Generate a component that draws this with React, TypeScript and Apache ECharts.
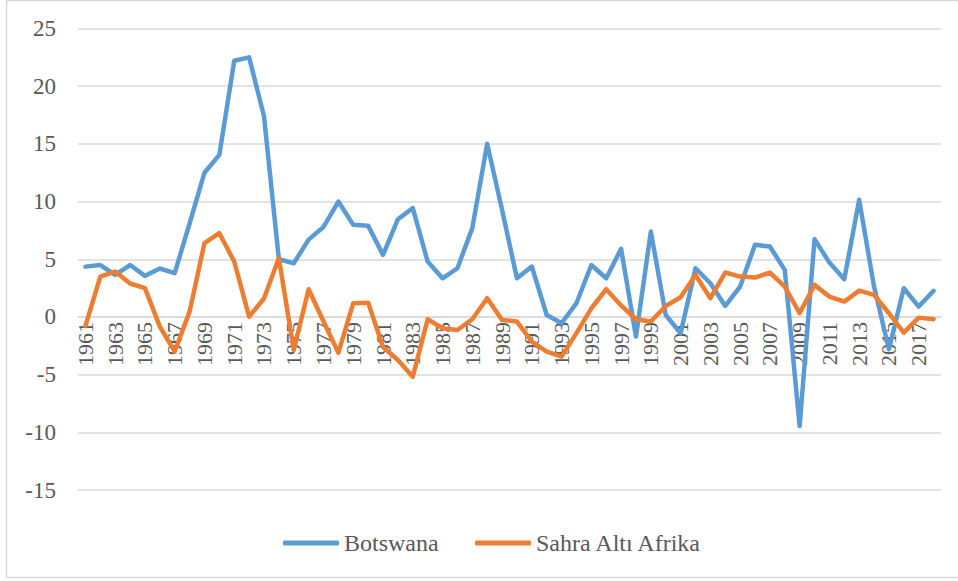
import React, { useEffect, useRef } from "react";
import * as echarts from "echarts";

const years: string[] = [];
for (let y = 1961; y <= 2018; y++) years.push(String(y));

const yTicks = [-15, -10, -5, 0, 5, 10, 15, 20, 25];

const botswana = [
  4.36, 4.5, 3.64, 4.5, 3.56, 4.2, 3.8, 8.1, 12.5, 14.05,
  22.2, 22.5, 17.4, 5.0, 4.65, 6.7, 7.8, 10.0, 7.98, 7.9,
  5.38, 8.47, 9.43, 4.8, 3.35, 4.22, 7.7, 15.0, 9.28, 3.35,
  4.37, 0.17, -0.55, 1.19, 4.5, 3.35, 5.9, -1.7, 7.4, 0.17,
  -1.41, 4.22, 2.92, 0.95, 2.63, 6.25, 6.1, 4.08, -9.46, 6.74,
  4.71, 3.27, 10.15, 2.63, -2.8, 2.49, 0.9, 2.26,
];

const ssa = [
  -0.78, 3.5, 3.93, 2.9, 2.5, -0.84, -3.0, 0.46, 6.4, 7.26,
  4.8, 0.03, 1.6, 5.1, -2.86, 2.4, -0.4, -3.1, 1.19, 1.24,
  -2.6, -3.73, -5.18, -0.2, -0.98, -1.13, -0.2, 1.62, -0.26, -0.4,
  -2.14, -3.0, -3.44, -1.4, 0.75, 2.4, 1.0, -0.2, -0.4, 0.95,
  1.71, 3.64, 1.62, 3.85, 3.5, 3.41, 3.85, 2.63, 0.32, 2.78,
  1.76, 1.33, 2.28, 1.91, 0.32, -1.36, -0.06, -0.2,
];

const seriesNames = ["Botswana", "Sahra Altı Afrika"];
const colors = ["#5B9BD5", "#ED7D31"];

export default function App() {
  const ref = useRef<HTMLDivElement>(null);
  useEffect(() => {
    document.body.style.margin = "0";
    const chart = echarts.init(ref.current!, null, { renderer: "svg" });
    const font = "Liberation Serif";
    const textColor = "#595959";
    const legendBase = {
      bottom: 26,
      padding: 0,
      icon: "roundRect",
      itemWidth: 56,
      itemHeight: 5,
      textStyle: { fontFamily: font, fontSize: 24, color: textColor },
    };
    chart.setOption({
      animation: false,
      backgroundColor: "#ffffff",
      textStyle: { fontFamily: font, color: textColor },
      graphic: [
        {
          type: "rect",
          shape: { x: 6.5, y: 0.5, width: 960, height: 577 },
          style: { fill: "none", stroke: "#d9d9d9", lineWidth: 1.5 },
          silent: true,
        },
      ],
      grid: { left: 78, right: 17, top: 28.5, bottom: 91, containLabel: false },
      legend: [
        { ...legendBase, left: 283, data: [seriesNames[0]] },
        { ...legendBase, left: 475, data: [seriesNames[1]] },
      ],
      xAxis: {
        type: "category",
        data: years,
        boundaryGap: true,
        offset: -173,
        axisLine: { onZero: false, lineStyle: { color: "#d9d9d9", width: 1.5 } },
        axisTick: { show: false },
        axisLabel: {
          rotate: 90,
          interval: 1,
          margin: 5,
          fontFamily: font,
          fontSize: 22,
          color: textColor,
        },
        splitLine: { show: false },
      },
      yAxis: {
        type: "value",
        min: yTicks[0],
        max: yTicks[yTicks.length - 1],
        interval: 5,
        axisLine: { show: false },
        axisTick: { show: false },
        axisLabel: {
          margin: 22,
          fontFamily: font,
          fontSize: 23,
          color: textColor,
        },
        splitLine: { lineStyle: { color: "#d9d9d9", width: 1.5 } },
      },
      series: [
        {
          name: seriesNames[0],
          type: "line",
          data: botswana,
          symbol: "none",
          lineStyle: { color: colors[0], width: 4.5, cap: "round", join: "round" },
          itemStyle: { color: colors[0] },
        },
        {
          name: seriesNames[1],
          type: "line",
          data: ssa,
          symbol: "none",
          lineStyle: { color: colors[1], width: 4.5, cap: "round", join: "round" },
          itemStyle: { color: colors[1] },
        },
      ],
    });
    return () => chart.dispose();
  }, []);
  return <div ref={ref} style={{ width: 958, height: 581 }} />;
}
